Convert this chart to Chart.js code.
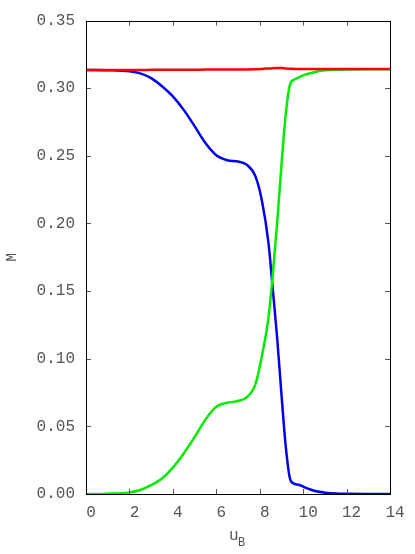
<!DOCTYPE html>
<html>
<head>
<meta charset="utf-8">
<script src="https://cdn.jsdelivr.net/npm/chart.js@4"></script>
<style>
  html, body { margin: 0; padding: 0; background: #fff; }
  #wrap { width: 415px; height: 554px; }
</style>
</head>
<body>
<div id="wrap"><canvas id="chart"></canvas></div>
<script>
// u_B sample positions
const uB = [0, 1, 2, 2.5, 3, 3.5, 4, 4.5, 5, 5.5, 6, 6.5, 7, 7.4, 7.8, 8.1, 8.4, 8.6, 8.8, 9.0, 9.2, 9.4, 9.6, 9.8, 10, 10.3, 10.6, 11, 11.5, 12, 13, 14];

const redM = [0.3135, 0.3135, 0.3135, 0.3135, 0.3136, 0.3136, 0.3137, 0.3137, 0.3137, 0.3138, 0.3138, 0.3138, 0.3138, 0.3139, 0.3141, 0.3143, 0.3146, 0.3148, 0.3149, 0.3149, 0.3146, 0.3144, 0.3143, 0.3142, 0.3142, 0.3142, 0.3142, 0.3142, 0.3142, 0.3142, 0.3142, 0.3142];

const greenM = [0, 0.0002, 0.0012, 0.003, 0.0065, 0.0115, 0.0195, 0.030, 0.042, 0.055, 0.0645, 0.0675, 0.0688, 0.0715, 0.081, 0.102, 0.130, 0.162, 0.200, 0.243, 0.281, 0.303, 0.3065, 0.308, 0.3095, 0.311, 0.3122, 0.3132, 0.3137, 0.3139, 0.314, 0.314];

const blueM = [0.3135, 0.3133, 0.3125, 0.311, 0.3075, 0.3015, 0.294, 0.284, 0.272, 0.2595, 0.2505, 0.2468, 0.2458, 0.2435, 0.235, 0.217, 0.186, 0.152, 0.116, 0.074, 0.035, 0.011, 0.0075, 0.0068, 0.0055, 0.0035, 0.002, 0.001, 0.0003, 0.0001, 0, 0];

const xTicks = [0, 2, 4, 6, 8, 10, 12, 14];
const yTicks = [0, 0.05, 0.10, 0.15, 0.20, 0.25, 0.30, 0.35];

const pts = (ys) => uB.map((u, i) => ({ x: u, y: ys[i] }));
const tickFont = { family: "'Liberation Mono', 'DejaVu Sans Mono', monospace", size: 16 };
const textColor = '#555';

// gnuplot-style frame with inward ticks on all four sides, plus subscripted x title
const framePlugin = {
  id: 'frame',
  afterDatasetsDraw(chart) {
    const { ctx, chartArea: a, scales } = chart;
    ctx.save();
    ctx.strokeStyle = '#555';
    ctx.lineWidth = 1;
    ctx.beginPath();
    xTicks.forEach(v => {
      const px = Math.round(scales.x.getPixelForValue(v)) + 0.5;
      ctx.moveTo(px, a.bottom); ctx.lineTo(px, a.bottom - 5);
      ctx.moveTo(px, a.top); ctx.lineTo(px, a.top + 5);
    });
    yTicks.forEach(v => {
      const py = Math.round(scales.y.getPixelForValue(v)) + 0.5;
      ctx.moveTo(a.left, py); ctx.lineTo(a.left + 5, py);
      ctx.moveTo(a.right, py); ctx.lineTo(a.right - 5, py);
    });
    ctx.stroke();
    ctx.strokeStyle = '#000';
    ctx.strokeRect(Math.round(a.left) + 0.5, Math.round(a.top) + 0.5,
      Math.round(a.right - a.left), Math.round(a.bottom - a.top));
    ctx.restore();
  },
  afterDraw(chart) {
    const { ctx, chartArea: a } = chart;
    const cx = (a.left + a.right) / 2;
    ctx.save();
    ctx.fillStyle = textColor;
    ctx.textBaseline = 'alphabetic';
    ctx.textAlign = 'left';
    ctx.font = "16px 'Liberation Mono', monospace";
    ctx.fillText('u', cx - 9, 540);
    ctx.font = "12px 'Liberation Mono', monospace";
    ctx.fillText('B', cx + 0, 546);
    ctx.restore();
  }
};

new Chart(document.getElementById('chart'), {
  type: 'line',
  data: {
    datasets: [
      { data: pts(redM), borderColor: 'rgb(255,0,0)' },
      { data: pts(greenM), borderColor: 'rgb(0,235,0)' },
      { data: pts(blueM), borderColor: 'rgb(0,0,235)' }
    ]
  },
  options: {
    responsive: true,
    maintainAspectRatio: false,
    animation: false,
    layout: { padding: { left: 0, right: 25, top: 19, bottom: 0 } },
    elements: {
      line: { borderWidth: 2.5, cubicInterpolationMode: 'monotone', fill: false },
      point: { radius: 0 }
    },
    plugins: {
      legend: { display: false },
      tooltip: { enabled: false }
    },
    scales: {
      x: {
        type: 'linear',
        min: 0,
        max: 14,
        grid: { display: false, drawTicks: false },
        border: { display: false },
        afterBuildTicks: (s) => { s.ticks = xTicks.map(v => ({ value: v })); },
        afterFit: (s) => { s.height = 60; },
        ticks: {
          padding: 9,
          labelOffset: 5,
          color: textColor,
          font: tickFont,
          maxRotation: 0,
          callback: (v) => String(v)
        }
      },
      y: {
        type: 'linear',
        min: 0,
        max: 0.35,
        grid: { display: false, drawTicks: false },
        border: { display: false },
        afterBuildTicks: (s) => { s.ticks = yTicks.map(v => ({ value: v })); },
        afterFit: (s) => { s.width = 86; },
        title: {
          display: true,
          text: 'M',
          color: textColor,
          font: { family: "'Liberation Mono', monospace", size: 14 },
          padding: { top: 4, bottom: 0 }
        },
        ticks: {
          padding: 11,
          color: textColor,
          font: tickFont,
          callback: (v) => v.toFixed(2)
        }
      }
    }
  },
  plugins: [framePlugin]
});
</script>
</body>
</html>
